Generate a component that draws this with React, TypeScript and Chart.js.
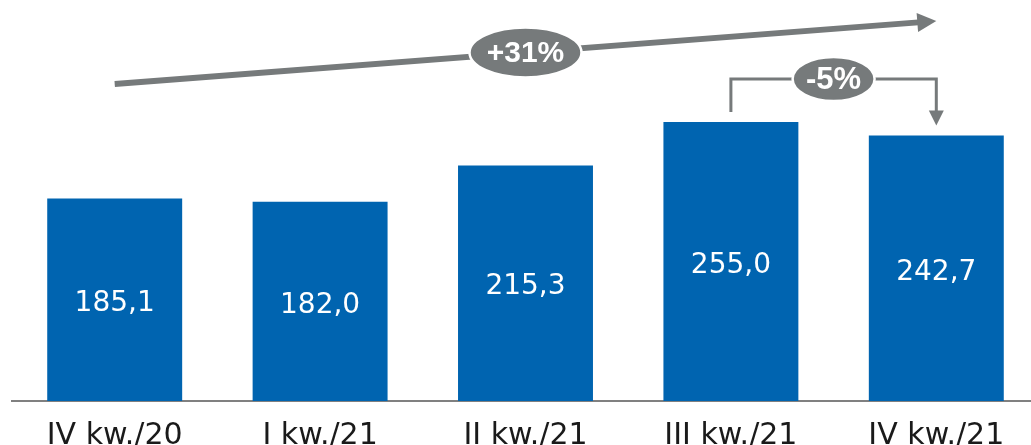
import React, { useEffect, useRef } from "react";
import { Chart, registerables } from "chart.js";

Chart.register(...registerables);

const categories = ["IV kw./20", "I kw./21", "II kw./21", "III kw./21", "IV kw./21"];
const values = [185.1, 182.0, 215.3, 255.0, 242.7];
const valueLabels = ["185,1", "182,0", "215,3", "255,0", "242,7"];
const totalChangeLabel = "+31%";
const lastChangeLabel = "-5%";

const BLUE = "#0064B0";
const GRAY = "#767A7B";

function drawHead(ctx: CanvasRenderingContext2D, tx: number, ty: number, dx: number, dy: number, len: number, half: number) {
  const nx = -dy, ny = dx;
  const bx = tx - dx * len, by = ty - dy * len;
  ctx.beginPath();
  ctx.moveTo(tx, ty);
  ctx.lineTo(bx + nx * half, by + ny * half);
  ctx.lineTo(bx - nx * half, by - ny * half);
  ctx.closePath();
  ctx.fill();
}

function drawPill(ctx: CanvasRenderingContext2D, cx: number, cy: number, rx: number, ry: number, text: string, size: number) {
  ctx.beginPath();
  ctx.ellipse(cx, cy, rx, ry, 0, 0, Math.PI * 2);
  ctx.fillStyle = GRAY;
  ctx.fill();
  ctx.lineWidth = 2.5;
  ctx.strokeStyle = "#ffffff";
  ctx.stroke();
  ctx.fillStyle = "#ffffff";
  ctx.font = `bold ${size}px "Liberation Sans"`;
  ctx.textAlign = "center";
  ctx.textBaseline = "middle";
  ctx.fillText(text, cx, cy + 1);
}

const overlay = {
  id: "overlay",
  afterDatasetsDraw(chart: any) {
    const ctx: CanvasRenderingContext2D = chart.ctx;
    const bars = chart.getDatasetMeta(0).data;
    ctx.save();
    // value labels
    ctx.fillStyle = "#ffffff";
    ctx.font = '28px "DejaVu Sans"';
    ctx.textAlign = "center";
    ctx.textBaseline = "middle";
    bars.forEach((b: any, i: number) => {
      ctx.fillText(valueLabels[i], b.x, (b.y + b.base) / 2 + 4);
    });

    // overall trend arrow
    const x0 = bars[0].x, x1 = bars[bars.length - 1].x;
    const y0 = 84, y1 = 21;
    const L = Math.hypot(x1 - x0, y1 - y0);
    const dx = (x1 - x0) / L, dy = (y1 - y0) / L;
    const head = 19;
    ctx.strokeStyle = GRAY;
    ctx.fillStyle = GRAY;
    ctx.lineWidth = 6;
    ctx.lineCap = "butt";
    ctx.beginPath();
    ctx.moveTo(x0, y0);
    ctx.lineTo(x1 - dx * (head - 1), y1 - dy * (head - 1));
    ctx.stroke();
    drawHead(ctx, x1, y1, dx, dy, head, 9.5);
    const px = bars[2].x;
    const py = y0 + ((px - x0) / (x1 - x0)) * (y1 - y0);
    drawPill(ctx, px, py, 56, 25, totalChangeLabel, 30);

    // bracket between last two quarters
    const xa = bars[3].x, xb = bars[4].x;
    const yh = 79;
    const ya = bars[3].y - 10;
    const yb = bars[4].y - 10;
    const h2 = 15;
    ctx.strokeStyle = GRAY;
    ctx.fillStyle = GRAY;
    ctx.lineWidth = 3;
    ctx.beginPath();
    ctx.moveTo(xa, ya);
    ctx.lineTo(xa, yh);
    ctx.lineTo(xb, yh);
    ctx.lineTo(xb, yb - h2 + 1);
    ctx.stroke();
    drawHead(ctx, xb, yb, 0, 1, h2, 7.5);
    drawPill(ctx, (xa + xb) / 2, yh, 41, 22, lastChangeLabel, 31);
    ctx.restore();
  },
};

export default function App() {
  const ref = useRef<HTMLCanvasElement | null>(null);
  useEffect(() => {
    if (!ref.current) return;
    const chart = new Chart(ref.current, {
      type: "bar",
      data: {
        labels: categories,
        datasets: [
          {
            data: values,
            backgroundColor: BLUE,
            borderWidth: 0,
            barPercentage: 0.657,
            categoryPercentage: 1,
          },
        ],
      },
      options: {
        animation: false,
        responsive: false,
        layout: { padding: { left: 12, right: 1, top: 0, bottom: 0 } },
        plugins: { legend: { display: false }, tooltip: { enabled: false } },
        scales: {
          x: {
            grid: { display: false, drawTicks: false },
            border: { display: true, color: "#808080", width: 2 },
            ticks: {
              color: "#1a1a1a",
              font: { family: "DejaVu Sans", size: 30 },
              padding: 17,
              maxRotation: 0,
              autoSkip: false,
            },
            afterFit: (s: any) => {
              s.height = 60;
            },
          },
          y: { display: false, min: 0, max: 366.5 },
        },
      },
      plugins: [overlay],
    });
    return () => chart.destroy();
  }, []);
  return (
    <div style={{ position: "fixed", left: 0, top: 0, width: 1031, height: 445, overflow: "hidden", background: "#fff" }}>
      <canvas ref={ref} width={1040} height={461} style={{ display: "block" }} />
    </div>
  );
}
